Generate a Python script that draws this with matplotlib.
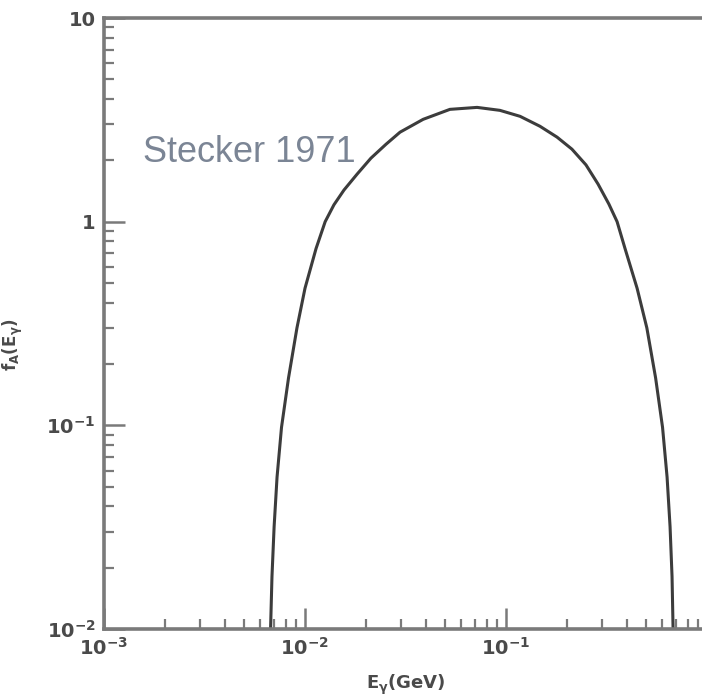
import matplotlib.pyplot as plt
from matplotlib.ticker import LogLocator, NullFormatter, FixedLocator

# photon energy (GeV) and spectrum f_A(E)
energy = [0.00674, 0.00685, 0.00702, 0.00726, 0.00764, 0.00828, 0.00912,
          0.0100, 0.01135, 0.0126, 0.01393, 0.01563, 0.01815, 0.02128,
          0.0253, 0.0297, 0.0387, 0.0526, 0.0718,
          0.0933, 0.1175, 0.1476, 0.1795, 0.2128, 0.250, 0.287, 0.325,
          0.357, 0.391, 0.449, 0.502, 0.555, 0.601, 0.633, 0.655,
          0.670, 0.678]
flux = [0.01, 0.0181, 0.0318, 0.0557, 0.0977, 0.171, 0.301,
        0.471, 0.738, 1.0, 1.21, 1.43, 1.71, 2.05,
        2.40, 2.75, 3.18, 3.56, 3.64,
        3.52, 3.29, 2.94, 2.60, 2.27, 1.90, 1.53, 1.22,
        1.0, 0.738, 0.471, 0.301, 0.171, 0.0977, 0.0557, 0.0318,
        0.0181, 0.01]

x_ticks = [1e-3, 1e-2, 1e-1, 1]
x_labels = ['$10^{-3}$', '$10^{-2}$', '$10^{-1}$', '1']
y_ticks = [1e-2, 1e-1, 1, 10]
y_labels = ['$10^{-2}$', '$10^{-1}$', '1', '10']

plt.rcParams['mathtext.default'] = 'bf'
fig = plt.figure(figsize=(7.02, 6.97), dpi=100)
ax = fig.add_axes([104 / 702, 68 / 697, 603 / 702, 611 / 697])

ax.plot(energy, flux, color='#3c3c3c', lw=2.2, solid_joinstyle='round')
ax.set_xscale('log')
ax.set_yscale('log')
ax.set_xlim(1e-3, 1)
ax.set_ylim(1e-2, 10)

spine_col = '#7a7a7a'
for s in ax.spines.values():
    s.set_color(spine_col)
    s.set_linewidth(2.6)

ax.xaxis.set_major_locator(FixedLocator(x_ticks))
ax.yaxis.set_major_locator(FixedLocator(y_ticks))
ax.set_xticklabels(x_labels)
ax.set_yticklabels(y_labels)
ax.xaxis.set_minor_locator(LogLocator(base=10, subs=range(2, 10)))
ax.yaxis.set_minor_locator(LogLocator(base=10, subs=range(2, 10)))
ax.xaxis.set_minor_formatter(NullFormatter())
ax.yaxis.set_minor_formatter(NullFormatter())
ax.tick_params(which='major', direction='in', length=15, width=1.8,
               color=spine_col, labelsize=14, labelcolor='#4a4a4a', pad=6)
ax.tick_params(which='minor', direction='in', length=7, width=1.6, color=spine_col)
for lab in ax.get_xticklabels() + ax.get_yticklabels():
    lab.set_fontweight('bold')

ax.set_xlabel('E$_\\gamma$(GeV)', fontsize=13, color='#4a4a4a',
              fontweight='bold', labelpad=10)
ax.set_ylabel('f$_A$(E$_\\gamma$)', fontsize=12, color='#4a4a4a',
              fontweight='bold')
ax.yaxis.set_label_coords(-0.131, 0.466)

ax.text(0.00156, 1.96, 'Stecker 1971', fontsize=26, color='#7b8595',
        family='Liberation Sans', ha='left', va='baseline')

fig.savefig('out.png', dpi=100)
